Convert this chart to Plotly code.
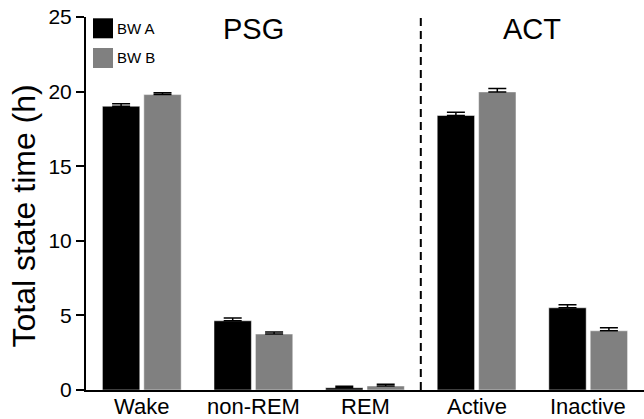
import plotly.graph_objects as go

categories = ["Wake", "non-REM", "REM", "Active", "Inactive"]
bw_a = [19.02, 4.64, 0.15, 18.40, 5.51]
bw_a_err = [0.17, 0.18, 0.10, 0.22, 0.20]
bw_b = [19.80, 3.75, 0.27, 19.98, 3.97]
bw_b_err = [0.13, 0.13, 0.11, 0.22, 0.20]
series_names = ["BW A", "BW B"]
group_labels = ["PSG", "ACT"]
y_ticks = [0, 5, 10, 15, 20, 25]

xpos = list(range(len(categories)))
FONT = "Liberation Sans, Arial, Helvetica, sans-serif"

fig = go.Figure()
for name, vals, errs, color, off in [
    (series_names[0], bw_a, bw_a_err, "#000000", -0.353),
    (series_names[1], bw_b, bw_b_err, "#808080", 0.018),
]:
    fig.add_trace(go.Bar(
        x=xpos, y=vals, name=name, width=0.335, offset=off,
        marker=dict(color=color, line=dict(color="white", width=0.5)),
        error_y=dict(type="data", symmetric=False, array=errs,
                     arrayminus=[0] * len(errs), color="black",
                     thickness=1.5, width=9),
        showlegend=False, hoverinfo="skip",
    ))

# dashed separator between PSG and ACT
fig.add_shape(type="line", xref="x", yref="y", x0=2.5, x1=2.5, y0=0, y1=25,
              line=dict(color="black", width=2, dash="8px,5px"))

# group labels
fig.add_annotation(x=1, y=24.2, xref="x", yref="y", text=group_labels[0],
                   showarrow=False, font=dict(size=29, color="black", family=FONT))
fig.add_annotation(x=3.5, y=24.2, xref="x", yref="y", text=group_labels[1],
                   showarrow=False, font=dict(size=29, color="black", family=FONT))

# category labels (as annotations for precise placement)
for xp, cat in zip(xpos, categories):
    fig.add_annotation(x=xp, y=0, xref="x", yref="y", text=cat,
                       showarrow=False, yanchor="top", yshift=-2,
                       font=dict(size=22, color="black", family=FONT))

# manual legend
W, H = 644, 419
for i, (name, color) in enumerate(zip(series_names, ["#000000", "#808080"])):
    y0 = 18.3 + i * 29.7
    fig.add_shape(type="rect", xref="paper", yref="paper",
                  x0=(93 - 86) / 558, x1=(113 - 86) / 558,
                  y0=(390 - (y0 + 20)) / 373, y1=(390 - y0) / 373,
                  fillcolor=color, line=dict(width=0))
    fig.add_annotation(xref="paper", yref="paper", x=(115 - 86) / 558,
                       y=(390 - (y0 + 10)) / 373, xanchor="left", yanchor="middle",
                       text=name, showarrow=False,
                       font=dict(size=15, color="black", family=FONT))

# y axis title as annotation
fig.add_annotation(xref="paper", yref="paper", x=(23 - 86) / 558,
                   y=(390 - 216.5) / 373, text="Total state time (h)",
                   textangle=-90, showarrow=False, xanchor="center", yanchor="middle",
                   font=dict(size=32, color="black", family=FONT))

fig.update_layout(
    width=W, height=H,
    margin=dict(l=86, r=0, t=17, b=29),
    plot_bgcolor="white", paper_bgcolor="white",
    font=dict(family=FONT, color="black"),
    hovermode=False,
    xaxis=dict(range=[-0.5, 4.5], tickmode="array", tickvals=xpos,
               showticklabels=False, showgrid=False, zeroline=False,
               showline=True, linecolor="black", linewidth=2, ticks=""),
    yaxis=dict(range=[0, 25], tickmode="array", tickvals=y_ticks,
               showgrid=False, zeroline=False, showline=True,
               linecolor="black", linewidth=2, ticks="outside", ticklen=8,
               tickwidth=1.5, tickcolor="black",
               tickfont=dict(size=21, color="black")),
)

fig.write_html("out.html", config={"displayModeBar": False},
               post_script="document.body.style.margin='0';document.body.style.overflow='hidden';")
